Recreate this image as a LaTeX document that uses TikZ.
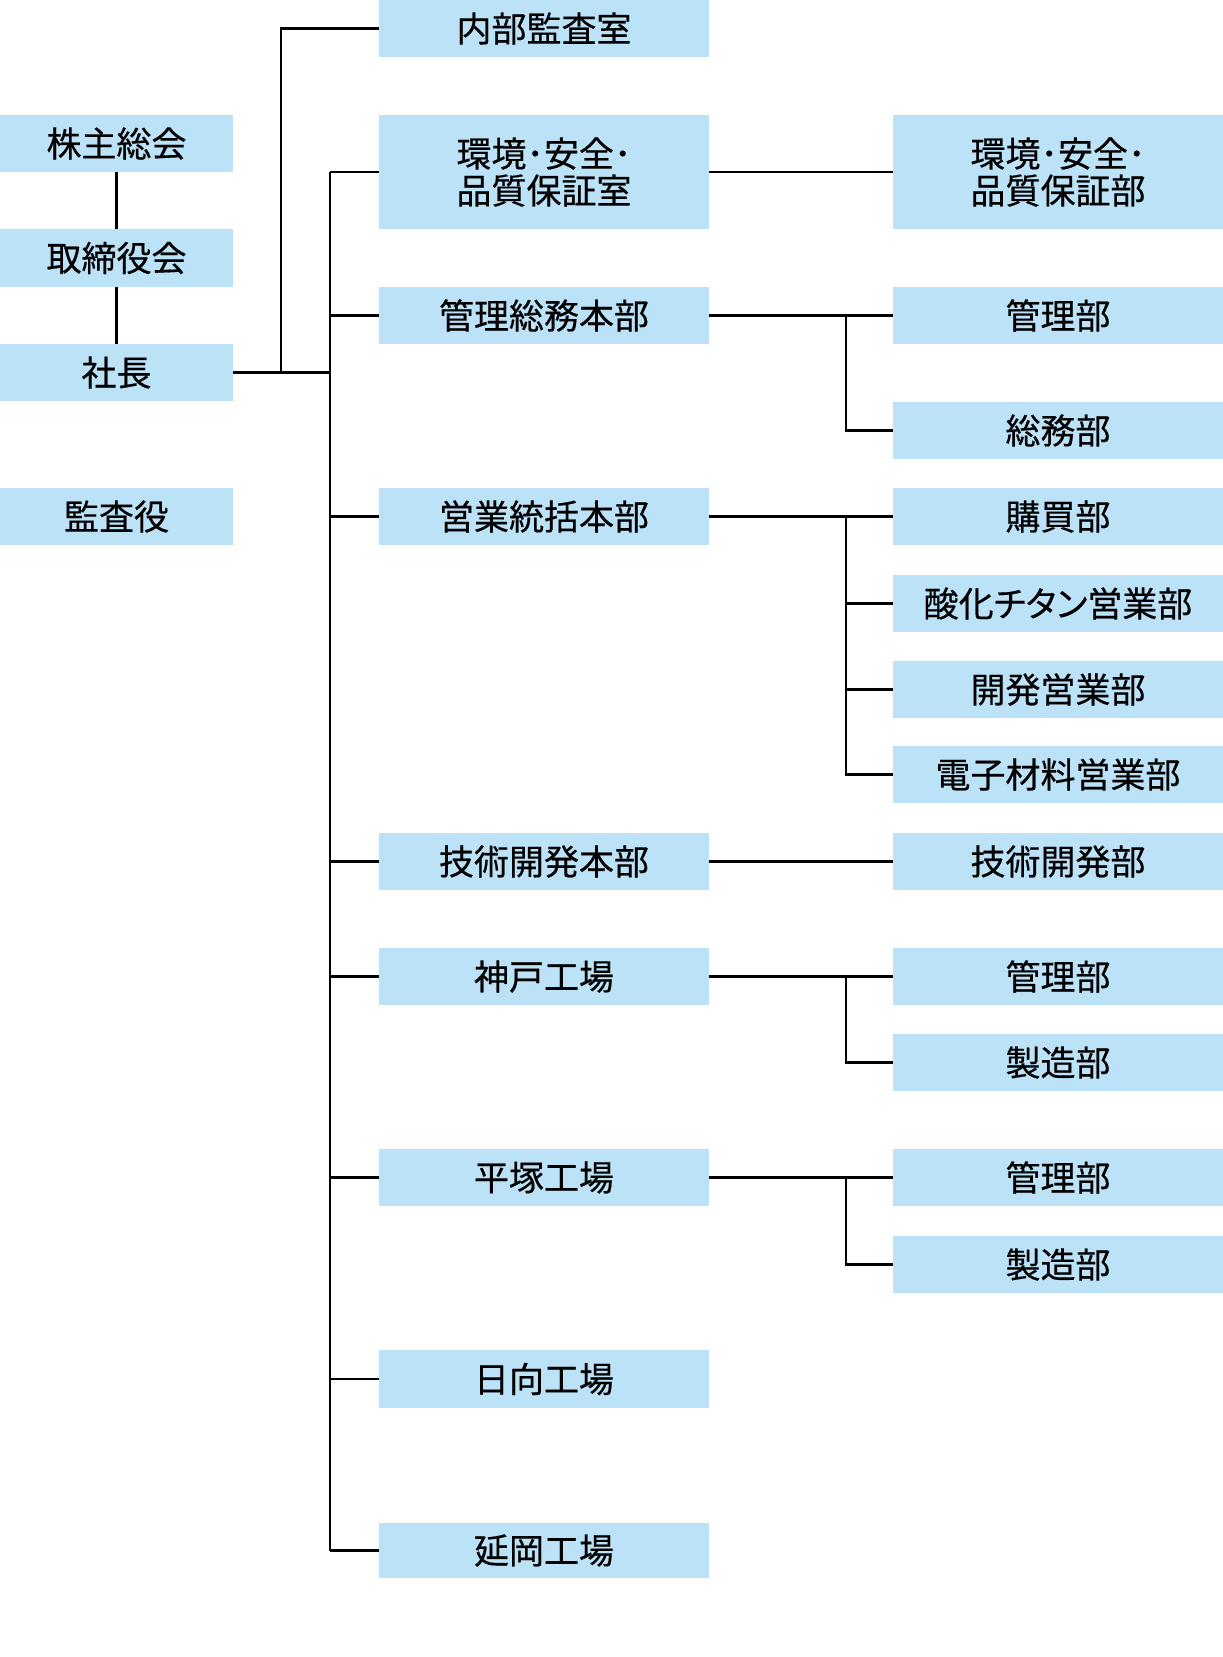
\documentclass[tikz,border=0pt]{standalone}
\usepackage{fontspec}
\newfontfamily\jpfont[FakeBold=0.4]{Noto Sans CJK JP}
\newfontfamily\jppfont[FakeBold=0.4,RawFeature=+palt]{Noto Sans CJK JP}
\definecolor{boxblue}{HTML}{BCE2F7}
\tikzset{
  orgbox/.style={fill=boxblue, draw=none, inner sep=0pt, outer sep=0pt, anchor=north west,
    align=center, font=\jpfont\fontsize{35}{37}\selectfont, text=black},
  link/.style={draw=black, line width=2.7pt}
}
\newcommand{\obox}[6]{% name, x1, y1, x2, y2, text
  \node[orgbox, minimum width={(#4-#2)*1pt}, minimum height={(#5-#3)*1pt}] (#1) at (#2,#3) {#6};
}
\begin{document}
\begin{tikzpicture}[x=1pt,y=-1pt]
\useasboundingbox (0,0) rectangle (1223,1657);
% column 1
\obox{kabu}{0}{115}{233}{172}{株主総会}
\obox{tori}{0}{229}{233}{287}{取締役会}
\obox{shacho}{0}{344}{233}{401}{社長}
\obox{kansa}{0}{488}{233}{545}{監査役}
% column 2
\obox{naibu}{379}{0}{709}{57}{内部監査室}
\obox{kankyo}{379}{115}{709}{229}{環境･安全･\\品質保証室}
\obox{kanri}{379}{287}{709}{344}{管理総務本部}
\obox{eigyo}{379}{488}{709}{545}{営業統括本部}
\obox{gijutsu}{379}{833}{709}{890}{技術開発本部}
\obox{kobe}{379}{948}{709}{1005}{神戸工場}
\obox{hiratsuka}{379}{1149}{709}{1206}{平塚工場}
\obox{hyuga}{379}{1350}{709}{1408}{日向工場}
\obox{nobeoka}{379}{1523}{709}{1578}{延岡工場}
% column 3
\obox{kankyob}{893}{115}{1223}{229}{環境･安全･\\品質保証部}
\obox{kanrib}{893}{287}{1223}{344}{管理部}
\obox{somu}{893}{402}{1223}{459}{総務部}
\obox{kobai}{893}{488}{1223}{545}{購買部}
\obox{sanka}{893}{575}{1223}{632}{{\jppfont 酸化チタン営業部}}
\obox{kaihatsu}{893}{661}{1223}{718}{開発営業部}
\obox{denshi}{893}{746}{1223}{803}{電子材料営業部}
\obox{gijutsub}{893}{833}{1223}{890}{技術開発部}
\obox{kobekanri}{893}{948}{1223}{1005}{管理部}
\obox{kobeseizo}{893}{1034}{1223}{1091}{製造部}
\obox{hirakanri}{893}{1149}{1223}{1206}{管理部}
\obox{hiraseizo}{893}{1236}{1223}{1293}{製造部}
% coordinates
\coordinate (trunkx) at (330,0);
\coordinate (topx) at (281,0);
\coordinate (brx) at (846,0);
% column 1 links
\draw[link] (kabu.south) -- (tori.north);
\draw[link] (tori.south) -- (shacho.north);
\draw[link] (shacho.east) -- (trunkx |- shacho.east);
\draw[link] (topx |- shacho.east) |- (naibu.west);
% trunk
\draw[link] (trunkx |- kankyo.west) -- (trunkx |- nobeoka.west);
\foreach \n in {kankyo,kanri,eigyo,gijutsu,kobe,hiratsuka,hyuga,nobeoka}
  \draw[link] (trunkx |- \n.west) -- (\n.west);
% column 2 to column 3
\draw[link] (kankyo.east) -- (kankyob.west);
\draw[link] (kanri.east) -- (kanrib.west);
\draw[link] (brx |- kanrib.west) |- (somu.west);
\draw[link] (eigyo.east) -- (kobai.west);
\draw[link] (brx |- kobai.west) |- (denshi.west);
\draw[link] (brx |- sanka.west) -- (sanka.west);
\draw[link] (brx |- kaihatsu.west) -- (kaihatsu.west);
\draw[link] (gijutsu.east) -- (gijutsub.west);
\draw[link] (kobe.east) -- (kobekanri.west);
\draw[link] (brx |- kobekanri.west) |- (kobeseizo.west);
\draw[link] (hiratsuka.east) -- (hirakanri.west);
\draw[link] (brx |- hirakanri.west) |- (hiraseizo.west);
\end{tikzpicture}
\end{document}
